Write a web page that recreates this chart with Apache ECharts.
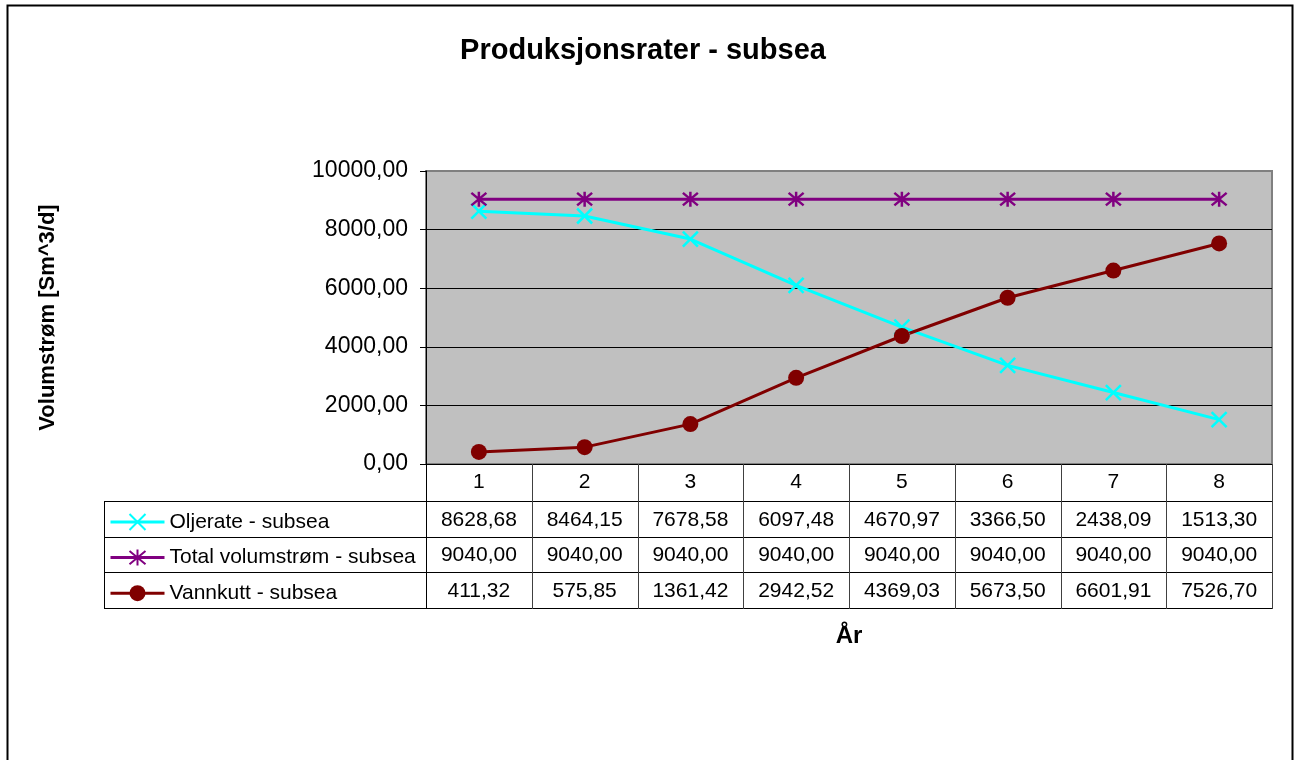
<!DOCTYPE html>
<html>
<head>
<meta charset="utf-8">
<script src="https://cdn.jsdelivr.net/npm/echarts@6/dist/echarts.min.js"></script>
<style>
  html, body { margin: 0; padding: 0; background: #fff; }
  #chart { width: 1298px; height: 760px; }
</style>
</head>
<body>
<div id="chart"></div>
<script>
// Production rates per year (Sm^3/d)
const years = ['1', '2', '3', '4', '5', '6', '7', '8'];
const oljerate = [8628.68, 8464.15, 7678.58, 6097.48, 4670.97, 3366.50, 2438.09, 1513.30];
const totalVolumstrom = [9040.00, 9040.00, 9040.00, 9040.00, 9040.00, 9040.00, 9040.00, 9040.00];
const vannkutt = [411.32, 575.85, 1361.42, 2942.52, 4369.03, 5673.50, 6601.91, 7526.70];

const seriesNames = ['Oljerate - subsea', 'Total volumstrøm - subsea', 'Vannkutt - subsea'];
const seriesData = [oljerate, totalVolumstrom, vannkutt];
const seriesColors = ['#00ffff', '#800080', '#800000'];

const FONT = '"Liberation Sans", Arial, sans-serif';
const fmt = v => v.toFixed(2).replace('.', ',');

const crossSymbol = 'path://M0,0L10,10M10,0L0,10';
const starSymbol = 'path://M0,0L10,10M10,0L0,10M5,-1L5,11';

const chart = echarts.init(document.getElementById('chart'), null, { renderer: 'canvas' });

const option = {
  animation: false,
  backgroundColor: '#ffffff',
  title: {
    text: 'Produksjonsrater - subsea',
    left: 638, top: 31, textAlign: 'center',
    textStyle: { fontFamily: FONT, fontSize: 29, fontWeight: 'bold', color: '#000' }
  },
  legend: {
    orient: 'vertical',
    left: 109, top: 510, padding: 0,
    itemWidth: 54, itemHeight: 20, itemGap: 11.6,
    selectedMode: false,
    lineStyle: { width: 3 },
    textStyle: { fontFamily: FONT, fontSize: 21, color: '#000', lineHeight: 24 },
    data: seriesNames
  },
  grid: {
    left: 426, right: 26, top: 171, bottom: 296,
    show: true, backgroundColor: '#c0c0c0', borderColor: '#808080', borderWidth: 2
  },
  xAxis: {
    type: 'category',
    data: years,
    boundaryGap: true,
    name: 'År', nameLocation: 'middle', nameGap: 160,
    nameTextStyle: { fontFamily: FONT, fontSize: 24, fontWeight: 'bold', color: '#000' },
    axisLine: { show: true, lineStyle: { color: '#000', width: 1 } },
    axisTick: { show: false },
    axisLabel: { fontFamily: FONT, fontSize: 21, color: '#000', margin: 8 },
    splitLine: { show: false }
  },
  yAxis: {
    type: 'value',
    min: 0, max: 10000, interval: 2000,
    name: 'Volumstrøm [Sm^3/d]', nameLocation: 'middle', nameGap: 367, nameRotate: 90,
    nameTextStyle: { fontFamily: FONT, fontSize: 22, fontWeight: 'bold', color: '#000' },
    axisLine: { show: true, lineStyle: { color: '#000', width: 1 } },
    axisTick: { show: true, length: 6, lineStyle: { color: '#000' } },
    axisLabel: { fontFamily: FONT, fontSize: 23, color: '#000', margin: 18, formatter: v => fmt(v) },
    splitLine: { show: true, lineStyle: { color: ['#000', '#000', '#000', '#000', '#000', '#808080'], width: 1 } }
  },
  series: [
    {
      name: seriesNames[0], type: 'line', data: oljerate,
      symbol: crossSymbol, symbolSize: 15,
      lineStyle: { color: seriesColors[0], width: 3 },
      itemStyle: { color: seriesColors[0], borderColor: seriesColors[0], borderWidth: 2.5 }
    },
    {
      name: seriesNames[1], type: 'line', data: totalVolumstrom,
      symbol: starSymbol, symbolSize: 15,
      lineStyle: { color: seriesColors[1], width: 3 },
      itemStyle: { color: seriesColors[1], borderColor: seriesColors[1], borderWidth: 2.5 }
    },
    {
      name: seriesNames[2], type: 'line', data: vannkutt,
      symbol: 'circle', symbolSize: 16,
      lineStyle: { color: seriesColors[2], width: 3 },
      itemStyle: { color: seriesColors[2] }
    }
  ]
};

chart.setOption(option);

// Data table under the plot, aligned with the category bands of the x axis
function buildTable() {
  const c0 = chart.convertToPixel({ gridIndex: 0 }, [0, 0]);
  const c1 = chart.convertToPixel({ gridIndex: 0 }, [1, 0]);
  const band = c1[0] - c0[0];
  const left = c0[0] - band / 2;
  const right = left + band * years.length;
  const top = c0[1];
  const headerH = 37;
  const rowH = 35.6;
  const legendLeft = 104;
  const rowTops = [top + headerH, top + headerH + rowH, top + headerH + 2 * rowH];
  const bottom = top + headerH + 3 * rowH;
  const els = [];
  const line = (x1, y1, x2, y2, color) => els.push({
    type: 'line', silent: true, z: 10,
    shape: { x1, y1, x2, y2 },
    style: { stroke: color || '#000', lineWidth: 1 }
  });
  // horizontal rules
  rowTops.forEach(y => line(legendLeft, Math.round(y) + 0.5, right, Math.round(y) + 0.5));
  line(legendLeft, Math.round(bottom) + 0.5, right, Math.round(bottom) + 0.5);
  // vertical rules
  line(legendLeft + 0.5, Math.round(rowTops[0]), legendLeft + 0.5, Math.round(bottom) + 1);
  for (let k = 0; k <= years.length; k++) {
    const x = Math.round(left + k * band) + 0.5;
    line(x, top, x, Math.round(bottom) + 1, k === 0 ? '#000' : '#404040');
  }
  // values
  seriesData.forEach((arr, r) => {
    const cy = rowTops[r] + rowH / 2 + 1;
    arr.forEach((v, i) => {
      els.push({
        type: 'text', silent: true, z: 10,
        style: {
          text: fmt(v), x: left + (i + 0.5) * band, y: cy,
          font: '21px ' + FONT, fill: '#000', align: 'center', verticalAlign: 'middle'
        }
      });
    });
  });
  // outer frame of the chart area
  els.push({
    type: 'rect', silent: true, z: 0,
    shape: { x: 7.5, y: 5.5, width: 1285, height: 780 },
    style: { fill: 'none', stroke: '#000', lineWidth: 2 }
  });
  chart.setOption({ graphic: { elements: els } });
}
buildTable();
</script>
</body>
</html>
